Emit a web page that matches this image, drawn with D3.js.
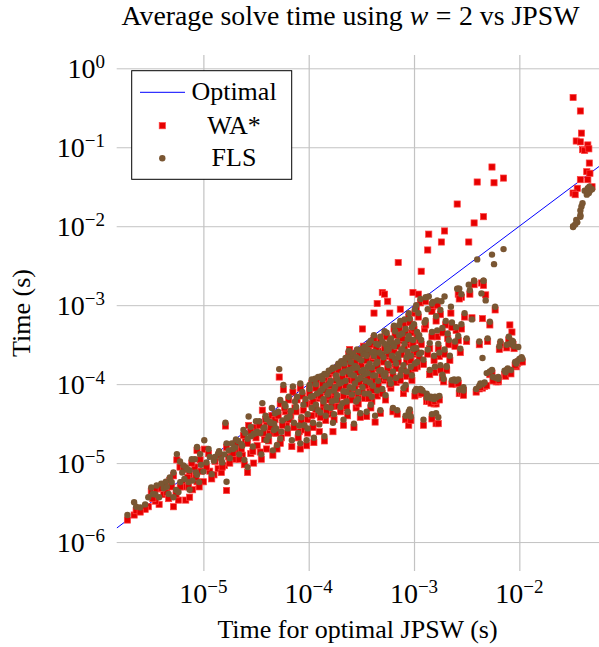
<!DOCTYPE html>
<html><head><meta charset="utf-8">
<script src="https://cdn.jsdelivr.net/npm/d3@7"></script>
<style>
body{margin:0;background:#fff}
svg{display:block}
</style>
</head><body>
<svg id="chart" width="599" height="647" font-family="'Liberation Serif', 'DejaVu Serif', serif"></svg>
<script>
// ---- data: time for optimal JPSW (x) and average solve time of WA* and FLS (y), seconds ----
const jpsw = [
1.9e-6,2.2e-6,2.3e-6,3.0e-6,3.2e-6,3.6e-6,3.8e-6,4.2e-6,4.4e-6,4.8e-6,
5.2e-6,5.2e-6,5.6e-6,5.8e-6,6.0e-6,6.8e-6,7.4e-6,7.4e-6,7.9e-6,8.7e-6,
8.7e-6,9.3e-6,1.0e-5,1.02e-5,6.3e-6,7.1e-6,4.5e-6,3.5e-6,2.8e-6,6.6e-6,8.3e-6,9.5e-6,
1.15e-5,1.26e-5,1.38e-5,1.48e-5,1.58e-5,1.62e-5,1.66e-5,1.74e-5,1.86e-5,2.0e-5,
2.14e-5,2.34e-5,2.5e-5,2.63e-5,2.69e-5,2.82e-5,3.0e-5,3.24e-5,3.47e-5,3.63e-5,
3.8e-5,3.98e-5,4.27e-5,4.47e-5,4.68e-5,4.68e-5,4.79e-5,5.0e-5,5.25e-5,5.37e-5,
5.5e-5,5.75e-5,6.03e-5,6.17e-5,6.61e-5,6.92e-5,7.08e-5,7.41e-5,7.76e-5,8.13e-5,
8.32e-5,8.32e-5,8.91e-5,9.55e-5,9.77e-5,2.4e-5,3.16e-5,3.98e-5,
1.02e-4,1.05e-4,1.07e-4,1.1e-4,1.12e-4,1.15e-4,1.2e-4,1.23e-4,1.26e-4,1.32e-4,
1.35e-4,1.38e-4,1.41e-4,1.45e-4,1.48e-4,1.51e-4,1.58e-4,1.62e-4,1.66e-4,1.7e-4,
1.74e-4,1.78e-4,1.82e-4,1.86e-4,1.91e-4,2.0e-4,2.04e-4,2.09e-4,2.14e-4,2.19e-4,
2.24e-4,2.29e-4,2.34e-4,2.45e-4,2.51e-4,2.57e-4,2.63e-4,2.69e-4,2.75e-4,2.82e-4,
2.88e-4,2.95e-4,3.02e-4,3.09e-4,3.16e-4,3.24e-4,3.31e-4,3.39e-4,3.47e-4,3.55e-4,
3.63e-4,3.72e-4,3.8e-4,3.89e-4,3.98e-4,4.07e-4,4.17e-4,4.27e-4,4.37e-4,4.47e-4,
4.57e-4,4.68e-4,4.79e-4,4.9e-4,2.63e-4,2.4e-4,2.95e-4,3.39e-4,3.98e-4,3.63e-4,
5.13e-4,5.25e-4,5.37e-4,5.5e-4,5.62e-4,5.75e-4,5.89e-4,6.03e-4,6.17e-4,6.31e-4,
6.46e-4,6.61e-4,6.76e-4,6.92e-4,7.08e-4,7.24e-4,7.41e-4,7.59e-4,7.76e-4,7.94e-4,
8.13e-4,8.32e-4,8.51e-4,8.71e-4,8.91e-4,9.12e-4,9.33e-4,9.55e-4,9.77e-4,1.0e-3,
1.02e-3,1.05e-3,1.07e-3,1.1e-3,1.12e-3,4.47e-4,5.0e-4,5.25e-4,4.17e-4,5.5e-4,
1.17e-3,1.26e-3,1.32e-3,1.35e-3,1.38e-3,1.41e-3,1.45e-3,1.51e-3,1.58e-3,1.62e-3,
1.66e-3,1.74e-3,1.82e-3,1.91e-3,1.95e-3,2.0e-3,2.04e-3,2.14e-3,2.24e-3,2.4e-3,
2.51e-3,2.57e-3,2.63e-3,2.75e-3,2.82e-3,2.95e-3,3.02e-3,3.16e-3,3.31e-3,3.39e-3,
3.55e-3,3.72e-3,3.89e-3,3.98e-3,4.17e-3,4.37e-3,4.47e-3,4.57e-3,4.79e-3,5.0e-3,
5.25e-3,5.5e-3,5.75e-3,5.89e-3,6.31e-3,6.61e-3,7.08e-3,7.59e-3,8.13e-3,8.51e-3,
8.91e-3,9.33e-3,9.77e-3,8.32e-4,8.91e-4,9.33e-4,1.1e-3,1.15e-3,1.2e-3,1.23e-3,
1.32e-3,1.38e-3,1.48e-3,1.55e-3,1.62e-3,1.7e-3,1.86e-3,2.04e-3,2.4e-3,2.51e-3,
2.69e-3,2.82e-3,2.95e-3,4.47e-3,4.68e-3,4.9e-3,5.25e-3,5.5e-3,6.03e-3,6.31e-3,
7.24e-3,7.76e-3,9.55e-3,1.0e-2,1.05e-2,4.17e-3,
3.24e-2,3.8e-2,3.89e-2,3.47e-2,3.8e-2,3.98e-2,4.17e-2,4.47e-2,
4.57e-2,4.62e-2,4.37e-2,4.68e-2,3.8e-2,4.47e-2,3.55e-2,3.24e-2,4.9e-2,3.39e-2,
1.05e-3,1.15e-3,1.29e-3,1.48e-3,1.66e-3,1.78e-3,2.69e-3,3.72e-3,4.57e-3,
1.02e-4,1.07e-4,1.1e-4,1.17e-4,1.17e-4,1.23e-4,1.29e-4,1.29e-4,1.35e-4,1.38e-4,
1.41e-4,1.45e-4,1.48e-4,1.55e-4,1.55e-4,1.62e-4,1.66e-4,1.7e-4,1.74e-4,1.78e-4,
1.82e-4,1.86e-4,1.91e-4,1.95e-4,2.0e-4,2.04e-4,2.09e-4,2.14e-4,2.19e-4,2.24e-4,
2.29e-4,2.34e-4,2.4e-4,2.45e-4,2.51e-4,2.57e-4,2.63e-4,2.69e-4,2.75e-4,2.82e-4,
2.88e-4,2.95e-4,3.02e-4,3.09e-4,3.16e-4,3.24e-4,3.31e-4,3.39e-4,3.47e-4,3.55e-4,
3.63e-4,3.72e-4,3.8e-4,3.89e-4,3.98e-4,4.07e-4,4.17e-4,4.27e-4,4.37e-4,4.47e-4,
4.57e-4,4.68e-4,4.79e-4,4.9e-4,5.0e-4,5.13e-4,5.25e-4,5.37e-4,5.5e-4,5.62e-4,
5.75e-4,5.89e-4,6.03e-4,6.17e-4,6.31e-4,6.46e-4,6.61e-4,6.76e-4,6.92e-4,7.08e-4,
7.24e-4,7.41e-4,7.59e-4,7.76e-4,7.94e-4,8.13e-4,8.32e-4,8.51e-4,8.71e-4,8.91e-4,
9.12e-4,9.33e-4,9.55e-4,9.77e-4,1.0e-3,1.02e-3,1.05e-3,1.07e-3,1.1e-3,1.12e-3,
1.17e-3,1.23e-3,1.29e-3,1.35e-3,1.41e-3,1.48e-3,1.55e-3,1.62e-3,1.7e-3,1.78e-3,
1.86e-3,1.95e-3,2.09e-3,2.19e-3,2.29e-3,2.45e-3,2.63e-3,2.82e-3,
2.63e-5,2.82e-5,2.95e-5,3.16e-5,3.39e-5,3.55e-5,3.72e-5,3.89e-5,4.17e-5,4.37e-5,
4.57e-5,4.9e-5,5.13e-5,5.37e-5,5.62e-5,5.89e-5,6.31e-5,6.46e-5,6.76e-5,7.24e-5,
7.59e-5,7.94e-5,8.51e-5,8.71e-5,9.12e-5,9.33e-5,9.77e-5,
1.07e-5,1.12e-5,1.2e-5,1.29e-5,1.41e-5,1.51e-5,1.66e-5,1.78e-5,1.91e-5,2.04e-5,
2.19e-5,2.29e-5,2.45e-5,
2.51e-6,3.31e-6,3.98e-6,4.68e-6,5.0e-6,5.5e-6,6.03e-6,6.46e-6,7.24e-6,7.76e-6,
8.51e-6,9.12e-6,
2.29e-3,2.63e-3,1.45e-3,1.58e-3,1.74e-3,1.02e-3,1.17e-3,4.27e-3,5.62e-3,7.41e-3,
8.32e-3,9.12e-3,1.07e-2,6.46e-3,7.59e-3,8.71e-3,7.94e-3
];
const waStar = [
1.9e-6,2.2e-6,2.5e-6,2.8e-6,4.4e-6,4.7e-6,3.0e-6,4.0e-6,5.4e-6,6.0e-6,
2.8e-6,6.9e-6,1.1e-5,3.4e-6,8.9e-6,3.4e-6,3.7e-6,7.1e-6,4.6e-6,1.45e-5,
5.8e-6,1.1e-5,5.8e-6,1.5e-5,5.6e-6,6.6e-6,4.2e-6,3.3e-6,2.6e-6,5.0e-6,8.9e-6,7.9e-6,
7.9e-6,7.1e-6,8.5e-6,7.6e-6,9.3e-6,2.95e-5,4.5e-6,1.2e-5,1.32e-5,1.12e-5,
1.41e-5,1.26e-5,1.91e-5,7.6e-6,3.0e-5,1.32e-5,1.0e-5,1.66e-5,1.38e-5,4.68e-5,
2.0e-5,1.51e-5,2.5e-5,3.98e-5,2.88e-5,2.4e-5,3.55e-5,1.51e-5,1.23e-4,5.62e-5,
2.09e-5,8.51e-5,4.47e-5,3.16e-5,3.55e-5,1.62e-5,7.94e-5,5.0e-5,6.31e-5,2.5e-5,
1.51e-5,8.91e-5,4.68e-5,1.66e-5,3.55e-5,2.24e-5,2.82e-5,3.31e-5,
8.91e-5,5.62e-5,3.98e-5,2.82e-5,1.82e-5,1.05e-4,6.61e-5,4.17e-5,2.5e-5,1.1e-4,
7.94e-5,5.0e-5,1.91e-5,3.47e-5,1.12e-4,6.31e-5,8.91e-5,4.17e-5,1.38e-4,2.5e-5,
7.08e-5,1.41e-4,5.25e-5,1.0e-4,1.66e-4,1.58e-4,8.91e-5,5.0e-5,3.02e-5,1.26e-4,
1.91e-4,6.61e-5,3.98e-5,2.75e-4,1.12e-4,2.0e-4,7.59e-5,2.82e-5,1.51e-4,5.0e-5,
2.51e-4,1.0e-4,1.78e-4,3.8e-5,1.26e-4,5.0e-4,3.02e-4,6.61e-5,2.0e-4,3.89e-5,
1.41e-4,2.82e-4,8.91e-5,5.0e-5,2.09e-4,1.12e-4,3.8e-4,3.31e-5,1.58e-4,7.08e-5,
2.63e-4,1.26e-4,4.27e-5,2.0e-4,1.32e-4,2.4e-4,7.08e-5,1.12e-4,6.03e-5,2.4e-4,
1.12e-4,3.98e-4,6.31e-5,2.24e-4,1.12e-3,1.51e-4,7.94e-4,8.91e-5,2.82e-4,4.47e-5,
5.0e-4,1.78e-4,1.05e-4,4.17e-5,3.47e-3,3.55e-4,8.91e-4,1.32e-4,2.4e-4,7.59e-5,
5.62e-4,8.71e-5,1.91e-4,3.16e-4,7.08e-4,4.17e-5,1.41e-4,4.47e-4,1.45e-3,2.4e-4,
7.94e-4,7.94e-5,1.66e-4,1.38e-3,3.55e-4,1.05e-3,1.45e-3,1.38e-3,7.94e-4,2.51e-4,
2.69e-3,5.0e-4,6.92e-5,5.0e-3,7.94e-3,2.82e-4,6.31e-5,9.55e-4,1.41e-4,3.16e-5,
3.98e-4,2.24e-4,6.31e-3,1.07e-4,8.71e-3,5.62e-4,1.51e-4,3.16e-4,7.94e-4,1.05e-4,
4.79e-4,1.91e-2,1.38e-3,2.51e-4,1.26e-3,8.32e-5,7.08e-4,3.47e-4,6.31e-3,1.38e-3,
6.92e-4,1.1e-2,7.94e-5,3.63e-2,3.16e-4,1.91e-3,6.76e-4,1.32e-2,1.35e-3,3.47e-4,
5.62e-4,5.62e-2,3.55e-2,8.71e-4,1.07e-4,3.16e-4,4.07e-2,1.38e-4,5.62e-4,4.57e-4,
2.82e-4,1.66e-4,1.91e-4,3.55e-5,3.02e-5,3.47e-5,7.41e-5,7.94e-5,7.59e-5,3.02e-5,
6.03e-5,6.03e-5,3.63e-5,5.62e-5,5.62e-5,3.16e-5,1.2e-4,1.51e-4,1.05e-4,1.0e-4,
7.59e-5,7.94e-5,7.24e-5,8.91e-5,9.33e-5,9.55e-5,1.32e-4,1.38e-4,1.07e-4,1.12e-4,
1.32e-4,1.41e-4,1.82e-4,1.91e-4,2.0e-4,8.71e-5,
0.427,0.288,0.151,0.12,0.117,9.33e-2,9.12e-2,0.107,
9.55e-2,6.31e-2,4.9e-2,4.68e-2,3.89e-2,3.89e-2,3.02e-2,2.63e-2,3.16e-2,2.51e-2,
8.91e-4,1.07e-3,1.12e-3,8.32e-4,1.0e-3,7.59e-4,1.2e-3,1.82e-3,1.78e-3,
7.59e-5,1.02e-4,6.03e-5,8.91e-5,4.79e-5,1.12e-4,7.08e-5,3.8e-5,1.0e-4,5.62e-5,
1.2e-4,8.32e-5,4.47e-5,1.32e-4,7.08e-5,9.55e-5,5.25e-5,1.45e-4,3.55e-5,7.94e-5,
1.12e-4,6.31e-5,1.51e-4,8.91e-5,4.47e-5,1.78e-4,1.2e-4,7.08e-5,1.58e-4,9.55e-5,
5.25e-5,2.0e-4,1.32e-4,7.94e-5,1.66e-4,6.31e-5,2.24e-4,1.12e-4,8.91e-5,1.91e-4,
1.41e-4,5.62e-5,2.4e-4,1.05e-4,1.74e-4,7.94e-5,1.32e-4,2.63e-4,9.55e-5,2.0e-4,
1.2e-4,6.61e-5,1.58e-4,3.16e-4,1.41e-4,8.32e-5,2.24e-4,1.12e-4,2.82e-4,1.66e-4,
9.55e-5,2.19e-4,3.55e-4,1.32e-4,7.59e-5,1.91e-4,2.82e-4,1.2e-4,3.98e-4,1.58e-4,
2.4e-4,1.0e-4,3.31e-4,2.0e-4,1.26e-4,2.63e-4,4.17e-4,1.58e-4,3.02e-4,1.91e-4,
5.0e-4,1.12e-4,2.4e-4,3.8e-4,1.51e-4,2.82e-4,4.47e-4,1.26e-4,2.24e-4,3.55e-4,
6.03e-4,2.0e-4,1.12e-4,3.16e-4,5.0e-4,1.58e-4,2.51e-4,3.98e-4,7.08e-4,2.09e-4,
3.16e-4,1.78e-4,5.62e-4,2.4e-4,1.32e-4,3.98e-4,2.0e-4,6.31e-4,2.82e-4,1.51e-4,
4.47e-4,2.4e-4,3.8e-4,2.0e-4,5.25e-4,3.02e-4,3.55e-4,5.0e-4,
1.78e-5,2.51e-5,1.41e-5,2.09e-5,3.02e-5,1.12e-5,2.4e-5,3.55e-5,1.91e-5,2.82e-5,
1.26e-5,2.4e-5,3.98e-5,1.78e-5,3.02e-5,5.0e-5,2.4e-5,6.31e-5,3.98e-5,2.82e-5,
4.47e-5,2.09e-5,3.31e-5,7.08e-5,2.63e-5,5.62e-5,2.4e-5,
8.91e-6,1.32e-5,6.31e-6,1.05e-5,1.26e-5,8.91e-6,1.58e-5,1.0e-5,1.32e-5,1.78e-5,
1.12e-5,1.51e-5,9.55e-6,
2.4e-6,3.55e-6,4.79e-6,3.55e-6,5.0e-6,3.98e-6,5.0e-6,8.32e-6,5.0e-6,1.0e-5,
6.61e-6,5.0e-6,
1.0e-4,1.02e-4,5.75e-5,6.03e-5,6.31e-5,7.08e-5,7.59e-5,9.12e-5,1.1e-4,1.26e-4,
1.35e-4,1.74e-4,1.91e-4,2.75e-4,2.88e-4,3.16e-4,3.63e-4
];
const fls = [
2.2e-6,3.2e-6,2.8e-6,3.7e-6,4.9e-6,5.2e-6,3.7e-6,4.8e-6,5.8e-6,6.6e-6,
3.7e-6,7.6e-6,1.3e-5,4.3e-6,1.05e-5,8.9e-6,4.6e-6,8.1e-6,6.0e-6,1.6e-5,
7.1e-6,1.3e-5,7.8e-6,1.95e-5,7.6e-6,8.3e-6,5.0e-6,4.0e-6,3.0e-6,6.3e-6,1.12e-5,9.5e-6,
1.2e-5,1.07e-5,1.32e-5,1.12e-5,1.29e-5,3.24e-5,5.8e-6,1.45e-5,1.78e-5,1.58e-5,
1.91e-5,1.66e-5,2.4e-5,8.9e-6,3.9e-5,2.19e-5,2.34e-5,2.5e-5,2.4e-5,5.75e-5,
2.82e-5,1.95e-5,3.31e-5,5.0e-5,3.16e-5,2.63e-5,4.27e-5,1.7e-5,1.55e-4,6.31e-5,
2.5e-5,9.77e-5,5.25e-5,3.72e-5,3.89e-5,1.95e-5,9.33e-5,6.03e-5,6.92e-5,3.0e-5,
1.78e-5,1.02e-4,5.5e-5,1.95e-5,4.17e-5,2.63e-5,3.39e-5,3.63e-5,
9.77e-5,6.92e-5,5.0e-5,3.24e-5,2.09e-5,1.17e-4,7.59e-5,4.68e-5,3.09e-5,1.26e-4,
8.71e-5,6.03e-5,2.19e-5,3.98e-5,1.32e-4,7.41e-5,1.02e-4,5.0e-5,1.55e-4,3.24e-5,
8.32e-5,1.62e-4,6.31e-5,1.17e-4,1.82e-4,1.82e-4,1.05e-4,5.75e-5,3.55e-5,1.45e-4,
2.14e-4,7.94e-5,4.47e-5,1.41e-4,1.32e-4,2.29e-4,8.91e-5,3.16e-5,1.7e-4,6.03e-5,
2.75e-4,1.15e-4,2.09e-4,4.27e-5,1.45e-4,2.82e-4,2.4e-4,7.59e-5,2.4e-4,4.47e-5,
1.66e-4,3.31e-4,1.05e-4,5.5e-5,2.51e-4,1.29e-4,4.17e-4,3.98e-5,1.82e-4,8.32e-5,
3.16e-4,1.48e-4,4.68e-5,2.4e-4,1.58e-4,2.63e-4,7.94e-5,1.32e-4,6.92e-5,2.75e-4,
1.32e-4,4.68e-4,7.24e-5,2.63e-4,3.16e-4,1.74e-4,3.55e-4,1.02e-4,3.31e-4,5.0e-5,
5.5e-4,2.09e-4,1.2e-4,4.68e-5,2.4e-4,4.17e-4,6.31e-4,1.51e-4,2.75e-4,8.91e-5,
6.61e-4,9.77e-5,2.19e-4,3.72e-4,7.94e-4,4.79e-5,1.66e-4,5.25e-4,2.82e-4,2.82e-4,
8.91e-4,8.71e-5,1.91e-4,3.98e-4,4.17e-4,1.91e-4,3.47e-4,1.26e-4,2.29e-4,2.95e-4,
2.51e-4,6.03e-4,7.59e-5,8.91e-4,1.29e-3,3.31e-4,6.92e-5,1.1e-3,1.66e-4,4.27e-5,
4.79e-4,2.51e-4,1.12e-3,1.17e-4,1.29e-3,6.31e-4,1.7e-4,3.63e-4,9.55e-4,1.12e-4,
5.25e-4,1.62e-3,1.62e-3,2.82e-4,1.38e-3,9.12e-5,7.94e-4,3.8e-4,1.82e-3,1.55e-3,
6.61e-4,2.04e-3,8.71e-5,3.8e-3,3.47e-4,1.41e-3,2.14e-4,2.04e-3,1.15e-3,3.8e-4,
6.17e-4,4.37e-3,3.31e-3,9.55e-4,1.17e-4,3.47e-4,5.13e-3,1.51e-4,3.24e-4,3.55e-4,
3.02e-4,1.82e-4,2.95e-4,3.98e-5,4.47e-5,3.89e-5,8.51e-5,8.71e-5,8.32e-5,3.55e-5,
6.76e-5,6.92e-5,4.17e-5,6.46e-5,6.76e-5,3.8e-5,1.32e-4,1.66e-4,1.15e-4,1.1e-4,
8.51e-5,8.71e-5,8.32e-5,1.0e-4,1.05e-4,1.38e-4,1.45e-4,1.51e-4,1.2e-4,1.23e-4,
1.48e-4,1.58e-4,1.95e-4,2.09e-4,2.19e-4,9.55e-5,
1.0e-2,1.58e-2,1.78e-2,1.2e-2,1.38e-2,1.95e-2,2.82e-2,3.02e-2,
2.63e-2,3.16e-2,2.51e-2,2.82e-2,1.32e-2,2.75e-2,1.12e-2,9.77e-3,2.95e-2,1.05e-2,
1.0e-3,1.2e-3,1.26e-3,1.05e-3,1.15e-3,8.71e-4,1.62e-3,2.04e-3,2.04e-3,
8.71e-5,1.15e-4,7.08e-5,1.0e-4,5.5e-5,1.23e-4,8.13e-5,4.37e-5,1.15e-4,6.46e-5,
1.35e-4,9.55e-5,5.13e-5,1.48e-4,7.94e-5,1.1e-4,6.03e-5,1.62e-4,4.17e-5,9.12e-5,
1.29e-4,7.24e-5,1.7e-4,1.02e-4,5.13e-5,1.95e-4,1.38e-4,8.13e-5,1.82e-4,1.1e-4,
6.03e-5,2.19e-4,1.51e-4,9.12e-5,1.91e-4,7.41e-5,2.45e-4,1.29e-4,1.02e-4,2.19e-4,
1.62e-4,6.46e-5,2.69e-4,1.2e-4,2.0e-4,9.12e-5,1.51e-4,2.95e-4,1.1e-4,2.29e-4,
1.38e-4,7.59e-5,1.82e-4,3.55e-4,1.62e-4,9.55e-5,2.57e-4,1.29e-4,3.24e-4,1.91e-4,
1.1e-4,2.51e-4,3.98e-4,1.51e-4,8.71e-5,2.19e-4,3.24e-4,1.38e-4,4.47e-4,1.82e-4,
2.75e-4,1.15e-4,3.8e-4,2.29e-4,1.45e-4,3.02e-4,4.68e-4,1.82e-4,3.47e-4,2.19e-4,
5.62e-4,1.29e-4,2.75e-4,4.37e-4,1.74e-4,3.24e-4,5.0e-4,1.45e-4,2.57e-4,4.07e-4,
6.76e-4,2.29e-4,1.29e-4,3.63e-4,5.75e-4,1.82e-4,2.88e-4,4.57e-4,7.94e-4,2.4e-4,
3.63e-4,2.04e-4,6.46e-4,2.75e-4,1.51e-4,4.57e-4,2.29e-4,7.24e-4,3.24e-4,1.74e-4,
5.13e-4,2.75e-4,4.37e-4,2.29e-4,6.03e-4,3.47e-4,4.07e-4,5.75e-4,
2.04e-5,2.88e-5,1.62e-5,2.4e-5,3.39e-5,1.29e-5,2.75e-5,3.98e-5,2.19e-5,3.24e-5,
1.45e-5,2.75e-5,4.47e-5,2.04e-5,3.47e-5,5.62e-5,2.75e-5,6.92e-5,4.57e-5,3.24e-5,
5.13e-5,2.4e-5,3.8e-5,7.94e-5,3.02e-5,6.46e-5,2.75e-5,
1.02e-5,1.51e-5,7.24e-6,1.2e-5,1.41e-5,1.02e-5,1.78e-5,1.15e-5,1.51e-5,2.0e-5,
1.29e-5,1.74e-5,1.1e-5,
2.75e-6,4.07e-6,5.5e-6,4.07e-6,5.75e-6,4.57e-6,5.75e-6,9.33e-6,5.75e-6,1.12e-5,
7.59e-6,5.75e-6,
1.12e-4,1.15e-4,6.61e-5,6.92e-5,7.08e-5,8.13e-5,8.51e-5,1.02e-4,1.23e-4,1.41e-4,
1.51e-4,1.91e-4,2.09e-4,3.02e-4,3.16e-4,3.47e-4,3.98e-4
];
const seriesNames = ["Optimal", "WA*", "FLS"];
const xTicks = [1e-5, 1e-4, 1e-3, 1e-2];
const xTickExponents = ["−5", "−4", "−3", "−2"];
const yTicks = [1, 1e-1, 1e-2, 1e-3, 1e-4, 1e-5, 1e-6];
const yTickExponents = ["0", "−1", "−2", "−3", "−4", "−5", "−6"];
const xView = [1.503e-6, 5.77e-2];
const yView = [4.3e-7, 1.474];

// ---- layout ----
const FONT = "'Liberation Serif', 'DejaVu Serif', serif";
const plot = {left: 116.7, right: 599.5, top: 55, bottom: 571};
const colors = {optimal: "#0000ff", wa: "#e60000", waEdge: "#ff4040", fls: "#7a5632", grid: "#c3c3c3"};

const svg = d3.select("#chart");
const x = d3.scaleLog().domain(xView).range([plot.left, plot.right]);
const y = d3.scaleLog().domain(yView).range([plot.bottom, plot.top]);

// grid via axes
const gx = svg.append("g").attr("transform", `translate(0,${plot.bottom})`)
  .call(d3.axisBottom(x).tickValues(xTicks).tickFormat("").tickSize(-(plot.bottom - plot.top)).tickSizeOuter(0));
gx.select(".domain").remove();
gx.selectAll(".tick line").attr("stroke", colors.grid).attr("stroke-width", 1.2);

const gy = svg.append("g").attr("transform", `translate(${plot.left},0)`)
  .call(d3.axisLeft(y).tickValues(yTicks).tickFormat("").tickSize(-(plot.right - plot.left)).tickSizeOuter(0));
gy.select(".domain").remove();
gy.selectAll(".tick line").attr("stroke", colors.grid).attr("stroke-width", 1);

// tick labels
svg.append("g").selectAll("text").data(xTicks).join("text")
  .attr("font-family", FONT)
  .attr("x", d => x(d)).attr("y", 603).attr("text-anchor", "middle").attr("font-size", 28)
  .each(function(d, i) {
    const t = d3.select(this);
    t.append("tspan").text("10");
    t.append("tspan").attr("font-size", 19).attr("dy", -10).text(xTickExponents[i]);
  });
svg.append("g").selectAll("text").data(yTicks).join("text")
  .attr("font-family", FONT)
  .attr("x", 105).attr("y", d => y(d) + 10).attr("text-anchor", "end").attr("font-size", 28)
  .each(function(d, i) {
    const t = d3.select(this);
    t.append("tspan").text("10");
    t.append("tspan").attr("font-size", 19).attr("dy", -10).text(yTickExponents[i]);
  });

// clip
svg.append("clipPath").attr("id", "clip").append("rect")
  .attr("x", plot.left).attr("y", plot.top).attr("width", plot.right - plot.left).attr("height", plot.bottom - plot.top);
const pg = svg.append("g").attr("clip-path", "url(#clip)");

// optimal line y = x
pg.append("path").datum(xView)
  .attr("d", d3.line().x(d => x(d)).y(d => y(d)))
  .attr("stroke", colors.optimal).attr("stroke-width", 1).attr("fill", "none");

const pts = d3.zip(jpsw, waStar, fls);
const sq = 6.2;
const rad = 3.2;
pg.append("g").selectAll("rect").data(pts).join("rect")
  .attr("x", d => x(d[0]) - sq / 2).attr("y", d => y(d[1]) - sq / 2)
  .attr("width", sq).attr("height", sq)
  .attr("fill", colors.wa).attr("stroke", colors.waEdge).attr("stroke-width", 0.7);
pg.append("g").selectAll("circle").data(pts).join("circle")
  .attr("cx", d => x(d[0])).attr("cy", d => y(d[2])).attr("r", rad)
  .attr("fill", colors.fls);

// titles
const title = svg.append("text").attr("font-family", FONT)
  .attr("x", 350.5).attr("y", 25).attr("text-anchor", "middle").attr("font-size", 27.8);
title.append("tspan").text("Average solve time using ");
title.append("tspan").attr("font-style", "italic").text("w");
title.append("tspan").attr("dx", 7.5).text("=");
title.append("tspan").attr("dx", 7.5).text("2 vs JPSW");

svg.append("text").attr("font-family", FONT).attr("x", 357.5).attr("y", 638).attr("text-anchor", "middle").attr("font-size", 26)
  .text("Time for optimal JPSW (s)");
svg.append("text").attr("font-family", FONT).attr("transform", `translate(30,${(plot.top + plot.bottom) / 2}) rotate(-90)`)
  .attr("text-anchor", "middle").attr("font-size", 26).text("Time (s)");

// legend
const lg = svg.append("g");
lg.append("rect").attr("x", 131.7).attr("y", 70.7).attr("width", 160).attr("height", 108.6)
  .attr("fill", "#fff").attr("stroke", "#000").attr("stroke-width", 1);
const rowsY = [92.3, 125.7, 158.3];
lg.append("line").attr("x1", 140).attr("x2", 185).attr("y1", rowsY[0]).attr("y2", rowsY[0])
  .attr("stroke", colors.optimal).attr("stroke-width", 1);
lg.append("rect").attr("x", 162.3 - sq / 2).attr("y", rowsY[1] - sq / 2).attr("width", sq).attr("height", sq)
  .attr("fill", colors.wa).attr("stroke", colors.waEdge).attr("stroke-width", 0.7);
lg.append("circle").attr("cx", 162.3).attr("cy", rowsY[2]).attr("r", rad).attr("fill", colors.fls);
lg.selectAll("text.lbl").data(seriesNames).join("text").attr("class", "lbl")
  .attr("font-family", FONT)
  .attr("x", 234).attr("y", (d, i) => rowsY[i] + 8).attr("text-anchor", "middle").attr("font-size", 26)
  .text(d => d);

if (jpsw.length !== waStar.length || jpsw.length !== fls.length) console.error("length mismatch", jpsw.length, waStar.length, fls.length);
</script>
</body></html>
